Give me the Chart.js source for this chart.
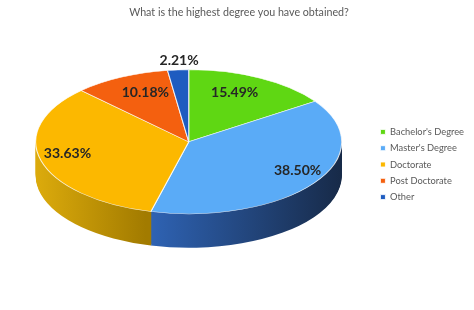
<!DOCTYPE html>
<html>
<head>
<meta charset="utf-8">
<script src="https://cdn.jsdelivr.net/npm/chart.js@4.4.1/dist/chart.umd.min.js"></script>
<style>
    body { margin: 0; background: #fff; }
</style>
</head>
<body>
<canvas id="degreeChart" width="474" height="310"></canvas>
<script>
const chartTitle = "What is the highest degree you have obtained?";
const degreeLabels = ["Bachelor's Degree", "Master's Degree", "Doctorate", "Post Doctorate", "Other"];
const degreeShares = [15.49, 38.50, 33.63, 10.18, 2.21];

// top face + side wall colours (side goes light -> dark, left to right)
const topColors = ["#5fd713", "#5aabf7", "#fcb800", "#f4600f", "#1e5cc0"];
const sideColors = [
    ["#3f9a08", "#2f7406"],
    ["#2f64b6", "#172a48"],
    ["#dcab0c", "#a27b00"],
    ["#b8470a", "#8a3506"],
    ["#163f86", "#0f2c60"]
];

// squash the flat pie into a tilted disc
function toFace(ctx, arc, o, dy) {
    ctx.translate(arc.x, arc.y - o.lift + dy);
    ctx.scale(o.rx / arc.outerRadius, o.ry / arc.outerRadius);
    ctx.translate(-arc.x, -arc.y);
}

function drawWith(ctx, arc, fill) {
    const saved = arc.options;
    arc.options = Object.assign({}, saved, { backgroundColor: fill, borderWidth: 0 });
    arc.draw(ctx);
    arc.options = saved;
}

const pie3d = {
    id: "pie3d",
    beforeDatasetsDraw(chart, args, o) {
        const ctx = chart.ctx;
        const arcs = chart.getDatasetMeta(0).data;
        if (!arcs.length) return;
        const a0 = arcs[0];
        const R = a0.outerRadius;

        // side walls, stacked layers from the bottom up
        for (let d = o.depth; d >= 1; d--) {
            ctx.save();
            toFace(ctx, a0, o, d);
            arcs.forEach((arc, i) => {
                // yellow wall shows on the left, the rest on the right
                const g = i === 2
                    ? ctx.createLinearGradient(arc.x - R, 0, arc.x - R * 0.28, 0)
                    : ctx.createLinearGradient(arc.x - R * 0.28, 0, arc.x + R, 0);
                g.addColorStop(0, sideColors[i][0]);
                g.addColorStop(1, sideColors[i][1]);
                drawWith(ctx, arc, g);
            });
            ctx.restore();
        }

        // top face
        ctx.save();
        toFace(ctx, a0, o, 0);
        arcs.forEach(arc => arc.draw(ctx));
        ctx.restore();

        // value labels (slightly pushed sideways to fake the perspective)
        ctx.save();
        ctx.font = "bold 14px Lato";
        ctx.fillStyle = "#262626";
        ctx.textAlign = "center";
        ctx.textBaseline = "middle";
        const cx = a0.x, cy = a0.y - o.lift;
        arcs.forEach((arc, i) => {
            const mid = (arc.startAngle + arc.endAngle) / 2;
            const sin = Math.cos(mid), cos = -Math.sin(mid);
            const v = degreeShares[i];
            const outside = v < 5;
            const fx = outside ? 1.13 : 0.78;
            const fy = outside ? 1.1 : 0.74;
            const x = cx + fx * o.rx * sin * (1 - 0.2 * cos);
            const y = cy - 2 - fy * o.ry * cos;
            ctx.fillText(v.toFixed(2) + "%", x, y);
        });
        ctx.restore();
        return false;
    }
};

new Chart(document.getElementById("degreeChart"), {
    type: "pie",
    data: {
        labels: degreeLabels,
        datasets: [{
            data: degreeShares,
            backgroundColor: topColors,
            borderColor: "rgba(255,255,255,0.85)",
            borderWidth: 1
        }]
    },
    options: {
        responsive: false,
        animation: false,
        // negative bottom padding pushes the legend column down a bit
        layout: { padding: { left: 4, right: 0, bottom: -19 } },
        plugins: {
            title: {
                display: true,
                text: chartTitle,
                color: "#595959",
                font: { family: "Lato", size: 10.7, weight: "normal" },
                padding: { top: 6, bottom: 8 }
            },
            legend: {
                position: "right",
                labels: {
                    boxWidth: 5,
                    boxHeight: 5,
                    padding: 7,
                    color: "#595959",
                    font: { family: "Lato", size: 9.3 }
                }
            },
            tooltip: { enabled: false },
            pie3d: { rx: 153, ry: 72, depth: 34, lift: 26.6 }
        }
    },
    plugins: [pie3d]
});
</script>
</body>
</html>
